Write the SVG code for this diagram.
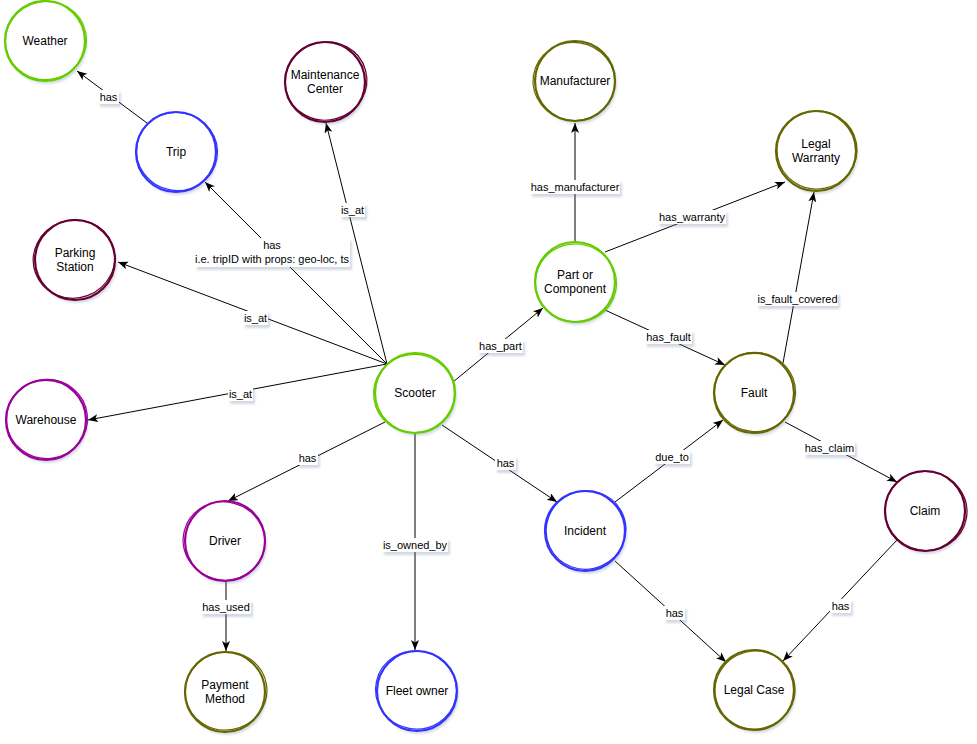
<svg xmlns="http://www.w3.org/2000/svg" width="977" height="744" viewBox="0 0 977 744">
<defs>
<filter id="sh" x="-20%" y="-20%" width="150%" height="150%">
<feDropShadow dx="2" dy="3" stdDeviation="1.2" flood-color="#7080a0" flood-opacity="0.3"/>
</filter>
<marker id="arr" markerUnits="userSpaceOnUse" markerWidth="11" markerHeight="9" refX="10" refY="4" orient="auto">
<path d="M0,0 L10,4 L0,8 L2.5,4 z" fill="#000"/>
</marker>
</defs>
<style>
.bg{fill:#fff;filter:url(#sh)}
.s1{fill:none;stroke-width:2.2}
.s2{fill:none;stroke-width:1.2}
.green{stroke:#66CC00}
.blue{stroke:#3333FF}
.maroon{stroke:#660033}
.olive{stroke:#666600}
.purple{stroke:#990099}
.nt{font-family:"Liberation Sans",Arial,sans-serif;font-size:12px;fill:#000;text-anchor:middle}
.e{stroke:#000;stroke-width:1;fill:none;marker-end:url(#arr)}
.lb{fill:#fff;filter:url(#sh)}
.lt{font-family:"Liberation Sans",Arial,sans-serif;font-size:11px;fill:#000;text-anchor:middle}
</style>
<rect width="977" height="744" fill="#fff"/>

<g id="connectors">
<line class="e" x1="147" y1="123" x2="77" y2="71"/>
<line class="e" x1="387" y1="364" x2="205" y2="182"/>
<line class="e" x1="387" y1="364" x2="326" y2="123"/>
<line class="e" x1="387" y1="364" x2="118" y2="262"/>
<line class="e" x1="387" y1="364" x2="88" y2="420"/>
<line class="e" x1="453" y1="382" x2="543" y2="308"/>
<line class="e" x1="575" y1="241" x2="575" y2="123"/>
<line class="e" x1="605" y1="252" x2="785" y2="182"/>
<line class="e" x1="605" y1="310" x2="725" y2="365"/>
<line class="e" x1="783" y1="363" x2="814" y2="192"/>
<line class="e" x1="785" y1="422" x2="897" y2="482"/>
<line class="e" x1="442" y1="425" x2="557" y2="502"/>
<line class="e" x1="615" y1="502" x2="723" y2="420"/>
<line class="e" x1="615" y1="561" x2="726" y2="662"/>
<line class="e" x1="897" y1="540" x2="783" y2="661"/>
<line class="e" x1="385" y1="422" x2="228" y2="501"/>
<line class="e" x1="226" y1="582" x2="226" y2="651"/>
<line class="e" x1="415" y1="433" x2="415" y2="650"/>

<g id="labels">
<rect class="lb" x="98" y="90" width="21" height="14"/><text class="lt" x="108.5" y="101">has</text>
<rect class="lb" x="195" y="238" width="155" height="29"/><text class="lt" x="272" y="249">has</text><text class="lt" x="272" y="263">i.e. tripID with props: geo-loc, ts</text>
<rect class="lb" x="340" y="203" width="25" height="14"/><text class="lt" x="352.5" y="214">is_at</text>
<rect class="lb" x="243" y="311" width="25" height="14"/><text class="lt" x="255.5" y="322">is_at</text>
<rect class="lb" x="228" y="387" width="25" height="14"/><text class="lt" x="240.5" y="398">is_at</text>
<rect class="lb" x="478" y="339" width="45" height="14"/><text class="lt" x="500.5" y="350">has_part</text>
<rect class="lb" x="530" y="180" width="90" height="14"/><text class="lt" x="575" y="191">has_manufacturer</text>
<rect class="lb" x="658" y="210" width="68" height="14"/><text class="lt" x="692" y="221">has_warranty</text>
<rect class="lb" x="645" y="330" width="47" height="14"/><text class="lt" x="668.5" y="341">has_fault</text>
<rect class="lb" x="757" y="292" width="81" height="14"/><text class="lt" x="797.5" y="303">is_fault_covered</text>
<rect class="lb" x="804" y="441" width="51" height="14"/><text class="lt" x="829.5" y="452">has_claim</text>
<rect class="lb" x="495" y="456" width="21" height="14"/><text class="lt" x="505.5" y="467">has</text>
<rect class="lb" x="654" y="450" width="36" height="14"/><text class="lt" x="672" y="461">due_to</text>
<rect class="lb" x="664" y="606" width="21" height="14"/><text class="lt" x="674.5" y="617">has</text>
<rect class="lb" x="830" y="599" width="21" height="14"/><text class="lt" x="840.5" y="610">has</text>
<rect class="lb" x="297" y="451" width="21" height="14"/><text class="lt" x="307.5" y="462">has</text>
<rect class="lb" x="201" y="600" width="50" height="14"/><text class="lt" x="226" y="611">has_used</text>
<rect class="lb" x="382" y="538" width="66" height="14"/><text class="lt" x="415" y="549">is_owned_by</text>
</g>
</g>

<g id="weather"><circle class="bg" cx="45" cy="41" r="40"/><circle class="s1 green" cx="45" cy="41" r="40"/><ellipse class="s2 green" cx="46" cy="40.5" rx="40.5" ry="39" transform="rotate(-12 46 40.5)"/><text class="nt" x="45" y="45">Weather</text></g>
<g id="trip"><circle class="bg" cx="176" cy="152" r="40"/><circle class="s1 blue" cx="176" cy="152" r="40"/><ellipse class="s2 blue" cx="177" cy="151.5" rx="40.5" ry="39" transform="rotate(10 177 151.5)"/><text class="nt" x="176" y="156">Trip</text></g>
<g id="maintenance"><circle class="bg" cx="325" cy="82" r="40"/><circle class="s1 maroon" cx="325" cy="82" r="40"/><ellipse class="s2 maroon" cx="326" cy="81" rx="41" ry="39" transform="rotate(-15 326 81)"/><text class="nt" x="325" y="79">Maintenance</text><text class="nt" x="325" y="93">Center</text></g>
<g id="manufacturer"><circle class="bg" cx="575" cy="81" r="40"/><circle class="s1 olive" cx="575" cy="81" r="40"/><ellipse class="s2 olive" cx="574" cy="81.5" rx="41" ry="39" transform="rotate(8 574 81.5)"/><text class="nt" x="575" y="85">Manufacturer</text></g>
<g id="legal_warranty"><circle class="bg" cx="816" cy="151" r="40"/><circle class="s1 olive" cx="816" cy="151" r="40"/><ellipse class="s2 olive" cx="817" cy="150" rx="40" ry="39" transform="rotate(-10 817 150)"/><text class="nt" x="816" y="148">Legal</text><text class="nt" x="816" y="162">Warranty</text></g>
<g id="parking_station"><circle class="bg" cx="75" cy="260" r="40"/><circle class="s1 maroon" cx="75" cy="260" r="40"/><ellipse class="s2 maroon" cx="74" cy="259" rx="41" ry="39" transform="rotate(-20 74 259)"/><text class="nt" x="75" y="257">Parking</text><text class="nt" x="75" y="271">Station</text></g>
<g id="part"><circle class="bg" cx="575" cy="282" r="40"/><circle class="s1 green" cx="575" cy="282" r="40"/><ellipse class="s2 green" cx="576" cy="283" rx="40.5" ry="39" transform="rotate(12 576 283)"/><text class="nt" x="575" y="279">Part or</text><text class="nt" x="575" y="293">Component</text></g>
<g id="scooter"><circle class="bg" cx="415" cy="393" r="40"/><circle class="s1 green" cx="415" cy="393" r="40"/><ellipse class="s2 green" cx="414" cy="393.5" rx="40.5" ry="39" transform="rotate(-8 414 393.5)"/><text class="nt" x="415" y="397">Scooter</text></g>
<g id="fault"><circle class="bg" cx="754" cy="393" r="40"/><circle class="s1 olive" cx="754" cy="393" r="40"/><ellipse class="s2 olive" cx="755" cy="392" rx="40.5" ry="39.5" transform="rotate(5 755 392)"/><text class="nt" x="754" y="397">Fault</text></g>
<g id="warehouse"><circle class="bg" cx="46" cy="420" r="40"/><circle class="s1 purple" cx="46" cy="420" r="40"/><ellipse class="s2 purple" cx="47" cy="419" rx="40.5" ry="39.5" transform="rotate(-6 47 419)"/><text class="nt" x="46" y="424">Warehouse</text></g>
<g id="driver"><circle class="bg" cx="225" cy="541" r="40"/><circle class="s1 purple" cx="225" cy="541" r="40"/><ellipse class="s2 purple" cx="224" cy="541" rx="41" ry="39" transform="rotate(15 224 541)"/><text class="nt" x="225" y="545">Driver</text></g>
<g id="incident"><circle class="bg" cx="585" cy="531" r="40"/><circle class="s1 blue" cx="585" cy="531" r="40"/><ellipse class="s2 blue" cx="586" cy="530" rx="40" ry="39" transform="rotate(-25 586 530)"/><text class="nt" x="585" y="535">Incident</text></g>
<g id="claim"><circle class="bg" cx="925" cy="511" r="40"/><circle class="s1 maroon" cx="925" cy="511" r="40"/><ellipse class="s2 maroon" cx="926" cy="511" rx="41" ry="39.5" transform="rotate(10 926 511)"/><text class="nt" x="925" y="515">Claim</text></g>
<g id="payment_method"><circle class="bg" cx="225" cy="692" r="40"/><circle class="s1 olive" cx="225" cy="692" r="40"/><ellipse class="s2 olive" cx="226" cy="691" rx="41" ry="39" transform="rotate(-10 226 691)"/><text class="nt" x="225" y="689">Payment</text><text class="nt" x="225" y="703">Method</text></g>
<g id="fleet_owner"><circle class="bg" cx="417" cy="691" r="40"/><circle class="s1 blue" cx="417" cy="691" r="40"/><ellipse class="s2 blue" cx="416" cy="690" rx="40.5" ry="39" transform="rotate(12 416 690)"/><text class="nt" x="417" y="695">Fleet owner</text></g>
<g id="legal_case"><circle class="bg" cx="754" cy="690" r="40"/><circle class="s1 olive" cx="754" cy="690" r="40"/><ellipse class="s2 olive" cx="755" cy="690" rx="40" ry="39" transform="rotate(-15 755 690)"/><text class="nt" x="754" y="694">Legal Case</text></g>
</svg>
